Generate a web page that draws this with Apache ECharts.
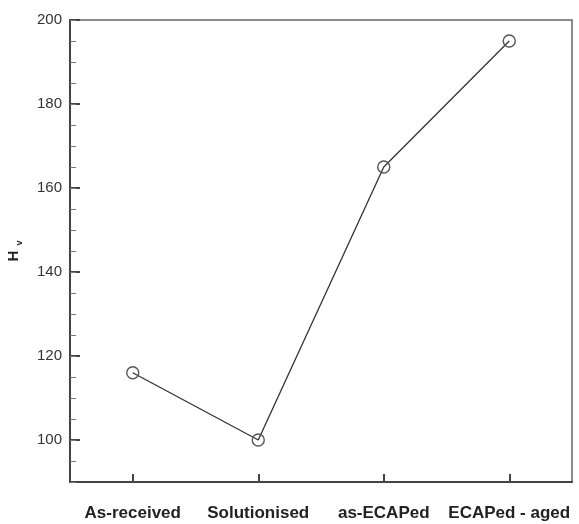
<!DOCTYPE html>
<html>
<head>
<meta charset="utf-8">
<script src="https://cdn.jsdelivr.net/npm/echarts@6/dist/echarts.min.js"></script>
<style>
html,body{margin:0;padding:0;background:#fff;}
#chart{width:579px;height:524px;}
</style>
</head>
<body>
<div id="chart"></div>
<script>
var categories = ['As-received', 'Solutionised', 'as-ECAPed', 'ECAPed - aged'];
var hardness = [116, 100, 165, 195];
var yTicks = [100, 120, 140, 160, 180, 200];

var chart = echarts.init(document.getElementById('chart'), null, {renderer: 'canvas'});
var font = 'Liberation Sans, Arial, sans-serif';
chart.setOption({
  animation: false,
  backgroundColor: '#ffffff',
  grid: {left: 70, right: 7, top: 20, bottom: 42, containLabel: false, outerBoundsMode: 'none',
    show: true, borderColor: '#666', borderWidth: 1.5, backgroundColor: 'transparent'},
  xAxis: {
    type: 'category',
    data: categories,
    boundaryGap: true,
    axisLine: {lineStyle: {color: '#444', width: 2}},
    axisTick: {show: true, inside: true, alignWithLabel: true, length: 8, lineStyle: {color: '#444', width: 2}},
    axisLabel: {interval: 0, fontFamily: font, fontWeight: 'bold', fontSize: 17, color: '#222', margin: 23},
    splitLine: {show: false}
  },
  yAxis: [{
    type: 'value',
    min: 90,
    max: 200,
    interval: 10,
    name: '{h|H}{v|v}',
    nameLocation: 'middle',
    nameGap: 46,
    nameRotate: 90,
    nameTextStyle: {
      rich: {
        h: {fontFamily: font, fontWeight: 'bold', fontSize: 15, color: '#222'},
        v: {fontFamily: font, fontWeight: 'bold', fontSize: 9, color: '#222', padding: [12, 0, 0, 5]}
      }
    },
    axisLine: {show: true, onZero: false, lineStyle: {color: '#444', width: 2}},
    axisTick: {show: true, inside: true, length: 10, customValues: yTicks, lineStyle: {color: '#444', width: 2}},
    axisLabel: {fontFamily: font, fontSize: 15, color: '#333', margin: 8, customValues: yTicks},
    splitLine: {show: false}
  }, {
    type: 'value',
    min: 90,
    max: 200,
    interval: 5,
    position: 'left',
    offset: 0,
    axisLine: {show: false},
    axisTick: {show: true, inside: true, length: 6, lineStyle: {color: '#777', width: 1}},
    axisLabel: {show: false},
    splitLine: {show: false}
  }],
  series: [{
    type: 'line',
    data: hardness,
    yAxisIndex: 0,
    symbol: 'circle',
    symbolSize: 12,
    itemStyle: {color: 'rgba(255,255,255,0)', borderColor: '#555', borderWidth: 1.4},
    lineStyle: {color: '#333', width: 1.3},
    z: 3
  }]
});
</script>
</body>
</html>
